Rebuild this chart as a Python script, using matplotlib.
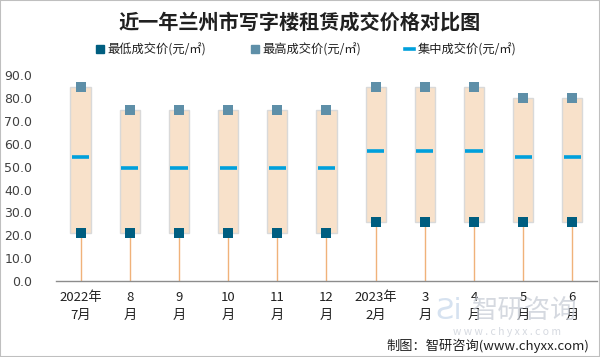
import matplotlib
matplotlib.use("Agg")
import matplotlib.pyplot as plt
from matplotlib.patches import Rectangle
from matplotlib.lines import Line2D

plt.rcParams['font.family'] = ['Noto Sans CJK SC', 'DejaVu Sans']

categories = ["2022年\n7月", "8\n月", "9\n月", "10\n月", "11\n月", "12\n月",
              "2023年\n2月", "3\n月", "4\n月", "5\n月", "6\n月"]
min_price = [21, 21, 21, 21, 21, 21, 26, 26, 26, 26, 26]
max_price = [85, 75, 75, 75, 75, 75, 85, 85, 85, 80, 80]
mid_price = [54.1, 49.3, 49.3, 49.3, 49.3, 49.3, 56.7, 56.7, 56.7, 54.1, 54.1]
yticks = [0, 10, 20, 30, 40, 50, 60, 70, 80, 90]

c_min = "#005E80"
c_max = "#5E8FA8"
c_mid = "#00A0DC"
c_box = "#F8E1CA"
c_stem = "#F0B27A"

fig = plt.figure(figsize=(6, 3.57), dpi=100)
ax = fig.add_axes([0.0933, 0.2129, 0.9017, 0.5761])

x = list(range(len(categories)))
bw = 0.41
for i in x:
    ax.plot([i, i], [0, min_price[i]], color=c_stem, lw=1.0, zorder=1)
    ax.add_patch(Rectangle((i - bw / 2, min_price[i]), bw, max_price[i] - min_price[i],
                           facecolor=c_box, edgecolor="#D9D9D9", lw=1.0, zorder=2))
    ax.plot([i - 0.175, i + 0.175], [mid_price[i]] * 2, color=c_mid, lw=2.6,
            solid_capstyle='butt', zorder=3)
ax.scatter(x, min_price, marker='s', s=42, color=c_min, zorder=4, linewidths=0)
ax.scatter(x, max_price, marker='s', s=42, color=c_max, zorder=4, linewidths=0)

ax.set_xlim(-0.5, len(categories) - 0.5)
ax.set_ylim(0, 90)
ax.set_yticks(yticks)
ax.set_yticklabels([f"{v:.1f}" for v in yticks], fontsize=9, color="#404040",
                   family=['DejaVu Sans'])
ax.set_xticks(x)
ax.set_xticklabels(categories, fontsize=9.5, color="#202020", linespacing=1.55)
ax.tick_params(axis='both', length=0)
ax.tick_params(axis='y', pad=17)
ax.tick_params(axis='x', pad=7)
for s in ['top', 'right', 'left']:
    ax.spines[s].set_visible(False)
ax.spines['bottom'].set_color("#8C8C8C")
ax.spines['bottom'].set_linewidth(1.0)

fig.text(0.5, 0.938, "近一年兰州市写字楼租赁成交价格对比图", ha='center', va='center',
         fontsize=14.5, fontweight='bold', color="#202020")

handles = [
    Line2D([], [], marker='s', linestyle='none', color=c_min, markersize=6),
    Line2D([], [], marker='s', linestyle='none', color=c_max, markersize=6),
    Line2D([], [], color=c_mid, lw=2.6),
]
labels = ["最低成交价(元/㎡)", "最高成交价(元/㎡)", "集中成交价(元/㎡)"]
leg = fig.legend(handles, labels, loc='center', bbox_to_anchor=(0.51, 0.86), ncol=3,
                 frameon=False, fontsize=8.8, handlelength=0.7, handletextpad=0.3,
                 columnspacing=3.6)
for t in leg.get_texts():
    t.set_color("#202020")

# watermark
fig.text(0.875, 0.13, "智研咨询", ha='center', va='center', fontsize=19,
         color="#C8CDD6", alpha=0.75, zorder=0)
fig.text(0.845, 0.07, "w w w . c h y x x . c o m", ha='center', va='center', fontsize=7.5,
         color="#C8CDD6", alpha=0.75, zorder=0)
fig.text(0.748, 0.13, "Ƨi", ha='center', va='center', fontsize=21, color="#C5D6EA",
         alpha=0.7, zorder=0, family=['DejaVu Sans'])

fig.text(0.982, 0.012, "制图：智研咨询(www.chyxx.com)", ha='right', va='bottom',
         fontsize=9.5, color="#202020")

fig.add_artist(Rectangle((0, 0), 1, 1, transform=fig.transFigure, fill=False,
                         edgecolor="#BFBFBF", lw=1.5))

fig.savefig("out.png", dpi=100)
